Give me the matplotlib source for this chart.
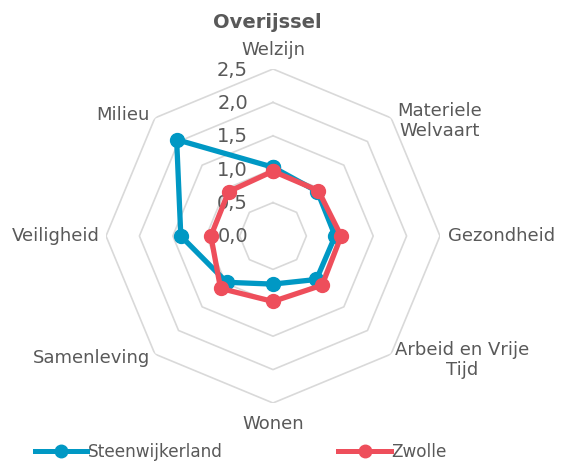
import numpy as np
import matplotlib
matplotlib.use("Agg")
import matplotlib.pyplot as plt
from matplotlib.lines import Line2D

# Dimensions of well-being (clockwise from the top)
categories = ["Welzijn", "Materiele\nWelvaart", "Gezondheid", "Arbeid en Vrije\nTijd",
              "Wonen", "Samenleving", "Veiligheid", "Milieu"]
steenwijkerland = [1.03, 0.94, 0.93, 0.92, 0.72, 0.98, 1.38, 2.04]
zwolle = [0.97, 0.96, 1.02, 1.04, 0.98, 1.11, 0.93, 0.94]
r_ticks = [0.0, 0.5, 1.0, 1.5, 2.0, 2.5]
r_tick_labels = ["0,0", "0,5", "1,0", "1,5", "2,0", "2,5"]

TEAL = "#0098c4"
RED = "#ee4e5b"
GRID = "#d9d9d9"
TEXT = "#595959"

plt.rcParams["font.family"] = ["DejaVu Sans"]

W, H = 566, 466
fig = plt.figure(figsize=(W / 100, H / 100), dpi=100)
cx, cy, R = 273, 236, 167
ax = fig.add_axes([(cx - R) / W, (H - cy - R) / H, 2 * R / W, 2 * R / H], projection="polar")
ax.set_theta_zero_location("N")
ax.set_theta_direction(-1)
ax.set_ylim(0, 2.5)
ax.grid(False)
ax.set_xticks([])
ax.set_yticks([])
ax.spines["polar"].set_visible(False)
ax.patch.set_visible(False)

n = len(categories)
theta = np.arange(n) * 2 * np.pi / n
theta_closed = np.append(theta, theta[0])

# Octagonal grid rings
for r in r_ticks[1:]:
    ax.plot(theta_closed, [r] * (n + 1), color=GRID, lw=1.2, zorder=1)

# Radial value labels along the vertical axis
for r, lab in zip(r_ticks, r_tick_labels):
    ax.annotate(lab, xy=(0, r), xytext=(-25, -1), textcoords="offset pixels",
                ha="right", va="center", fontsize=14, color=TEXT, zorder=2)

# Series
for vals, col in [(steenwijkerland, TEAL), (zwolle, RED)]:
    v = np.append(vals, vals[0])
    ax.plot(theta_closed, v, color=col, lw=3.8, marker="o", markersize=10,
            zorder=3, solid_joinstyle="round")

# Category labels around the outer ring
label_offsets = [
    (0, 10, "center", "bottom"),
    (6, -3, "left", "center"),
    (8, 0, "left", "center"),
    (4, -6, "left", "center"),
    (0, -12, "center", "top"),
    (-5, -4, "right", "center"),
    (-6, 0, "right", "center"),
    (-5, 3, "right", "center"),
]
for t, lab, (dx, dy, ha, va) in zip(theta, categories, label_offsets):
    ax.annotate(lab, xy=(t, 2.5), xytext=(dx, dy), textcoords="offset pixels",
                ha=ha, va=va, fontsize=13, color=TEXT, multialignment="center",
                annotation_clip=False)

fig.text(267 / W, 1 - 22 / H, "Overijssel", ha="center", va="center",
         fontsize=14, fontweight="bold", color=TEXT)

handles = [
    Line2D([], [], color=TEAL, lw=3.6, marker="o", markersize=9),
    Line2D([], [], color=RED, lw=3.6, marker="o", markersize=9),
]
fig.legend(handles, ["Steenwijkerland", "Zwolle"], ncol=2, loc="center",
           bbox_to_anchor=(241 / W, 1 - 452 / H), frameon=False, fontsize=12.2,
           labelcolor=TEXT, handlelength=3.1, handletextpad=0.05, columnspacing=6.8)

fig.savefig("out.png", dpi=100, facecolor="white")
